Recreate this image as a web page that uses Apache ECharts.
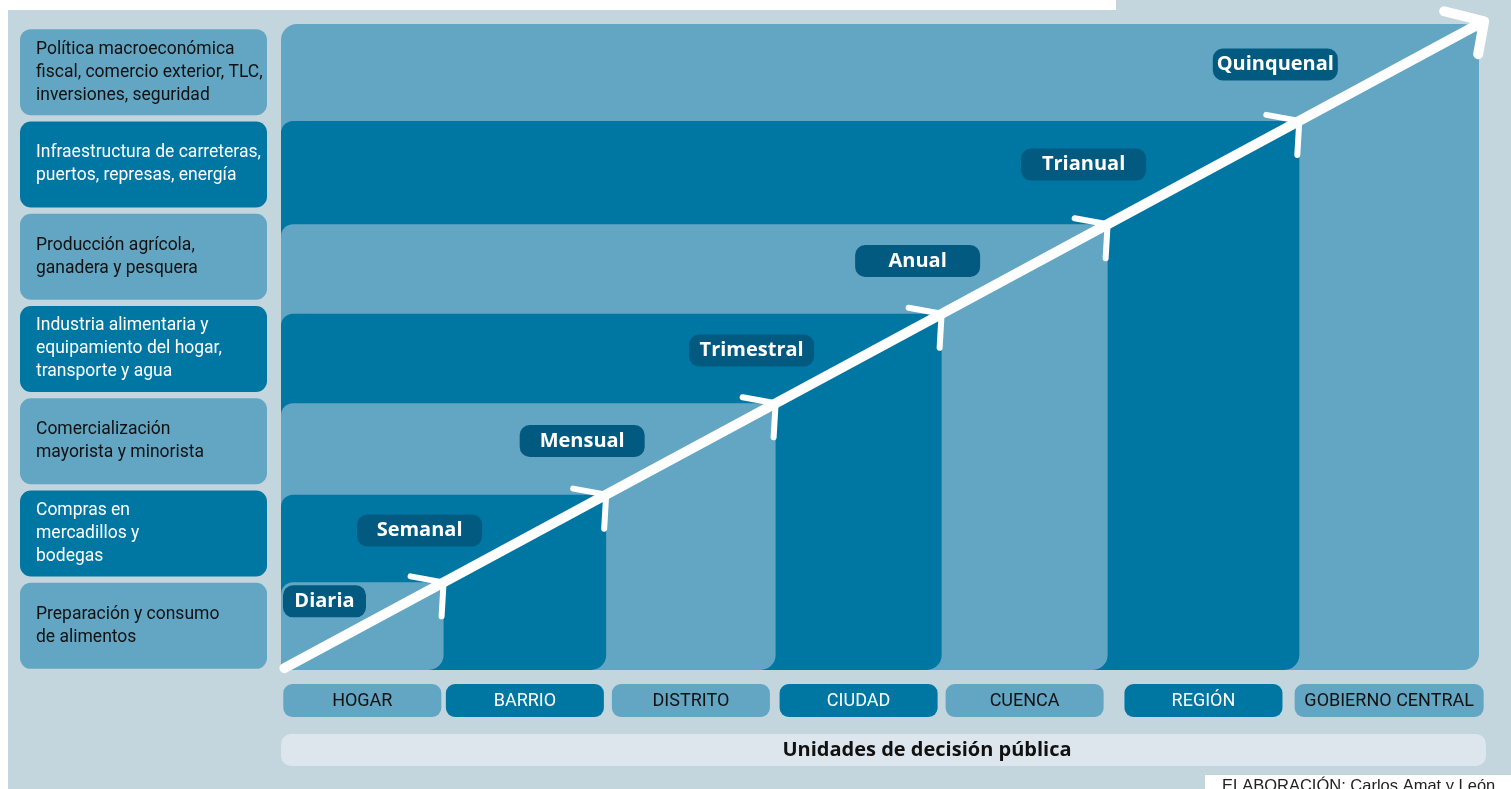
<!DOCTYPE html>
<html>
<head>
<meta charset="utf-8">
<script src="https://cdn.jsdelivr.net/npm/echarts@6/dist/echarts.min.js"></script>
<style>
html, body { margin: 0; padding: 0; background: #fff; }
#main { width: 1511px; height: 789px; }
</style>
</head>
<body>
<div id="main"></div>
<script>
// sectores de decisión, de abajo hacia arriba
var sectores = [
  'Preparación y consumo\nde alimentos',
  'Compras en\nmercadillos y\nbodegas',
  'Comercialización\nmayorista y minorista',
  'Industria alimentaria y\nequipamiento del hogar,\ntransporte y agua',
  'Producción agrícola,\nganadera y pesquera',
  'Infraestructura de carreteras,\npuertos, represas, energía',
  'Política macroeconómica\nfiscal, comercio exterior, TLC,\ninversiones, seguridad'
];
var unidades = ['HOGAR', 'BARRIO', 'DISTRITO', 'CIUDAD', 'CUENCA', 'REGIÓN', 'GOBIERNO CENTRAL'];
var periodos = ['Diaria', 'Semanal', 'Mensual', 'Trimestral', 'Anual', 'Trianual', 'Quinquenal'];
var escalones = [0.95, 1.9, 2.89, 3.86, 4.83, 5.95, 7]; // fin de cada escalón (x = y)
var puntaFlecha = 7.03;

var LIGHT = '#62a6c4';
var DARK = '#0076a3';
var BADGE = '#035a80';
var NARROW = '"Liberation Sans Narrow", "Roboto", sans-serif';
var BOLD = '"Open Sans", sans-serif';

var myChart = echarts.init(document.getElementById('main'));

var esquinas = escalones.slice(0, 6).map(function (v) { return [v, v]; });

myChart.setOption({
  animation: false,
  backgroundColor: '#c3d5dd',
  grid: [
    { left: 281, top: 24, width: 1198, height: 646 },
    { left: 20, top: 26, width: 247, height: 646 }
  ],
  xAxis: [
    { type: 'value', gridIndex: 0, min: 0, max: 7, show: false },
    { type: 'value', gridIndex: 1, min: 0, max: 1, show: false }
  ],
  yAxis: [
    { type: 'value', gridIndex: 0, min: 0, max: 7, show: false },
    { type: 'category', gridIndex: 1, data: sectores, show: false }
  ],
  graphic: [
    { type: 'rect', left: 0, top: 0, shape: { width: 8, height: 789 }, style: { fill: '#fff' } },
    { type: 'rect', left: 0, top: 0, shape: { width: 1117, height: 10 }, style: { fill: '#fff' } },
    { type: 'rect', left: 1116, top: 0, shape: { width: 1, height: 10 }, style: { fill: '#c9d3d9' } },
    { type: 'rect', left: 281, top: 734, shape: { width: 1205, height: 32, r: 10 }, style: { fill: '#dde6ed' } },
    {
      type: 'text', x: 927, y: 750,
      style: { text: 'Unidades de decisión pública', fill: '#111', font: 'bold 20px ' + BOLD, align: 'center', verticalAlign: 'middle', textAlign: 'center', textVerticalAlign: 'middle' }
    },
    { type: 'rect', left: 1205, top: 775, shape: { width: 306, height: 14 }, style: { fill: '#fff' } },
    {
      type: 'text', x: 1222, y: 778,
      style: { text: 'ELABORACIÓN: Carlos Amat y León', fill: '#222', font: '16.5px "Liberation Sans", sans-serif', align: 'left', verticalAlign: 'top', textAlign: 'left', textVerticalAlign: 'top' }
    }
  ],
  series: [
    // escalones anidados
    {
      type: 'custom',
      xAxisIndex: 0, yAxisIndex: 0,
      clip: false, silent: true, z: 1,
      data: escalones.map(function (v, i) { return [v, i]; }).reverse(),
      renderItem: function (params, api) {
        var v = api.value(0), i = api.value(1);
        var p0 = api.coord([0, 0]), p1 = api.coord([v, v]);
        return {
          type: 'rect',
          shape: { x: p0[0], y: p1[1], width: p1[0] - p0[0], height: p0[1] - p1[1], r: i === 6 ? 16 : [12, 2, 15, 8] },
          style: { fill: i % 2 === 0 ? LIGHT : DARK }
        };
      }
    },
    // etiquetas de sectores
    {
      type: 'bar',
      xAxisIndex: 1, yAxisIndex: 1,
      barWidth: 86, silent: true,
      itemStyle: { borderRadius: 11 },
      label: {
        show: true, position: 'insideLeft', distance: 16,
        formatter: function (p) { return p.name; },
        fontFamily: NARROW, fontSize: 17.5, lineHeight: 23
      },
      data: sectores.map(function (s, i) {
        return { value: 1, itemStyle: { color: i % 2 ? DARK : LIGHT }, label: { color: i % 2 ? '#fff' : '#111' } };
      })
    },
    // unidades de decisión
    {
      type: 'custom',
      xAxisIndex: 0, yAxisIndex: 0,
      clip: false, silent: true, z: 3,
      data: unidades.map(function (u, i) { return [i ? escalones[i - 1] : 0, escalones[i], i]; }),
      renderItem: function (params, api) {
        var a = api.value(0), b = api.value(1), i = api.value(2);
        var pa = api.coord([a, 0]), pb = api.coord([b, 0]);
        var cx = (pa[0] + pb[0]) / 2;
        var w = i === 6 ? 189 : 158;
        var top = pa[1] + 14;
        return {
          type: 'group',
          children: [
            { type: 'rect', shape: { x: cx - w / 2, y: top, width: w, height: 33, r: 9 }, style: { fill: i % 2 ? DARK : LIGHT } },
            {
              type: 'text',
              style: { text: unidades[i], x: cx, y: top + 17, fill: i % 2 ? '#fff' : '#111', font: '18px ' + NARROW, align: 'center', verticalAlign: 'middle', textAlign: 'center', textVerticalAlign: 'middle' }
            }
          ]
        };
      }
    },
    // flecha principal
    {
      type: 'line',
      xAxisIndex: 0, yAxisIndex: 0,
      clip: false, silent: true, z: 5,
      symbol: 'none',
      lineStyle: { color: '#fff', width: 10, cap: 'round', join: 'round' },
      data: [[0.02, 0.02]].concat(esquinas).concat([[puntaFlecha, puntaFlecha]])
    },
    // puntas de flecha en cada escalón
    {
      type: 'custom',
      xAxisIndex: 0, yAxisIndex: 0,
      clip: false, silent: true, z: 6,
      data: esquinas.map(function (e) { return [e[0], e[1], 0]; }).concat([[puntaFlecha, puntaFlecha, 1]]),
      renderItem: function (params, api) {
        var p = api.coord([api.value(0), api.value(1)]);
        var big = api.value(2) === 1;
        var a1 = big ? [-40, -10] : [-33, -6];
        var a2 = big ? [-6, 33] : [-2, 34];
        return {
          type: 'polyline',
          shape: { points: [[p[0] + a1[0], p[1] + a1[1]], [p[0], p[1]], [p[0] + a2[0], p[1] + a2[1]]] },
          style: { stroke: '#fff', lineWidth: big ? 10 : 6, lineCap: 'round', lineJoin: 'round', fill: null }
        };
      }
    },
    // periodos
    {
      type: 'custom',
      xAxisIndex: 0, yAxisIndex: 0,
      clip: false, silent: true, z: 7,
      data: periodos.map(function (p, i) { return [i ? escalones[i - 1] : 0, escalones[i], i]; }),
      renderItem: function (params, api) {
        var a = api.value(0), b = api.value(1), i = api.value(2);
        var p0 = api.coord([a, a]), p1 = api.coord([b, b]);
        var w, cx, cy;
        if (i === 0) {
          w = 83; cx = p0[0] + 2 + w / 2; cy = p1[1] + 19;
        } else {
          w = 125; cx = p0[0] - 24; cy = (p0[1] + p1[1]) / 2 - 8;
        }
        return {
          type: 'group',
          children: [
            { type: 'rect', shape: { x: cx - w / 2, y: cy - 16, width: w, height: 32, r: 10 }, style: { fill: BADGE } },
            {
              type: 'text',
              style: { text: periodos[i], x: cx, y: cy, fill: '#fff', font: 'bold 20px ' + BOLD, align: 'center', verticalAlign: 'middle', textAlign: 'center', textVerticalAlign: 'middle' }
            }
          ]
        };
      }
    }
  ]
});
</script>
</body>
</html>
